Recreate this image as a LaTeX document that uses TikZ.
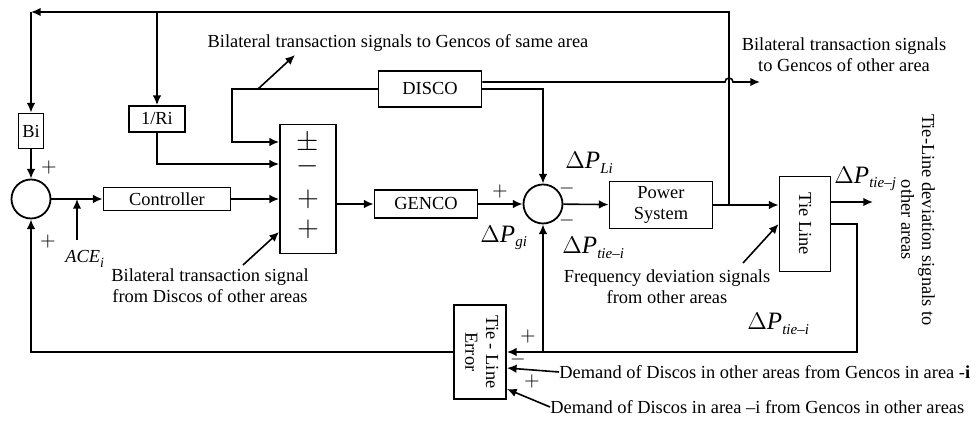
\documentclass[tikz,border=0pt]{standalone}
\usepackage{amsmath}
\usepackage{fontspec}
\setmainfont{Liberation Serif}
\usetikzlibrary{positioning, arrows.meta, calc}

% Delta P with a Times-like italic subscript
\newcommand{\dpow}[1]{{\fontsize{12.5}{14}\selectfont$\Delta$\textit{P}}\raisebox{-0.55ex}{\fontsize{7.5}{8}\selectfont\textit{#1}}}

\begin{document}
\begin{tikzpicture}[
  x=0.5pt, y=-0.5pt,
  font=\fontsize{9.2}{10.4}\selectfont,
  blk/.style={draw, line width=0.9pt, inner sep=1pt, align=center},
  junc/.style={draw, circle, line width=0.9pt, minimum size=19.5pt, inner sep=0pt},
  sig/.style={-{Latex[length=1.7mm, width=1.5mm]}, line width=0.8pt},
  note/.style={align=center, inner sep=0pt},
  dp/.style={inner sep=0pt},
  sgn/.style={inner sep=0pt, font=\fontsize{10}{12}\selectfont},
  muxsgn/.style={inner sep=0pt, text height=0.5em, text depth=0.05em,
                 font=\fontsize{14.5}{18}\selectfont},
]
\useasboundingbox (0,0) rectangle (971,421);

% Blocks
\node[blk, minimum width=12.5pt, minimum height=17.5pt] (bi) at (31,131) {Bi};
\node[blk, minimum width=28pt, minimum height=13pt] (ri) at (157,119) {1/Ri};
\node[junc] (sum1) at (31,199) {};
\node[blk, minimum width=63.5pt, minimum height=11.5pt] (ctrl) at (167,199) {Controller};
\node[blk, minimum width=28pt, minimum height=64.5pt] (mux) at (308,189) {};
\node[blk, minimum width=51.5pt, minimum height=18pt] (disco) at (430,89) {DISCO};
\node[blk, minimum width=51.5pt, minimum height=14pt] (genco) at (426,204) {GENCO};
\node[junc] (sum2) at (543,204) {};
\node[blk, minimum width=51.5pt, minimum height=23.5pt] (ps) at (661,205) {Power\\System};
\node[blk, minimum width=25.5pt, minimum height=47.5pt] (tie) at (805,224) {\rotatebox{-90}{Tie Line}};
\node[blk, minimum width=26pt, minimum height=47pt] (tle) at (480,352)
  {\rotatebox{-90}{\begin{tabular}{@{}c@{}}Tie - Line\\Error\end{tabular}}};

% Signs in the summing block
\node[muxsgn] (mx1) at (308,146) {$\pm$};
\node[muxsgn] (mx2) at (308,169) {$-$};
\node[muxsgn] (mx3) at (308,202) {$+$};
\node[muxsgn] (mx4) at (308,232) {$+$};

% Junction signs
\node[sgn] (s1a) at (49,168) {$+$};
\node[sgn] (s1b) at (48,242) {$+$};
\node[sgn] (s2a) at (500,192) {$+$};
\node[sgn] (s2b) at (567,189) {$-$};
\node[sgn] (s2c) at (567,221) {$-$};
\node[sgn] (t1) at (528,337) {$+$};
\node[sgn] (t2) at (518,360) {$-$};
\node[sgn] (t3) at (532,382) {$+$};

% Labels
\node[note] (samelbl) at (398,43) {Bilateral transaction signals to Gencos of same area};
\node[note] (othlbl) at (844,55) {Bilateral transaction signals\\to Gencos of other area};
\node[note] (fromlbl) at (210,286) {Bilateral transaction signal\\from Discos of other areas};
\node[note] (freqlbl) at (667,287) {Frequency deviation signals\\from other areas};
\node[note, rotate=-90] (devlbl) at (918,220) {Tie-Line deviation signals to\\other areas};
\node[note, anchor=west] (dem1) at (559,372) {Demand of Discos in other areas from Gencos in area -\textbf{i}};
\node[note, anchor=west] (dem2) at (550,407) {Demand of Discos in area \textendash i from Gencos in other areas};
\node[dp, anchor=west] (dpli) at (565,163) {\dpow{Li}};
\node[dp, anchor=west] (dpgi) at (480,238) {\dpow{gi}};
\node[dp, anchor=west] (dpti) at (562,248) {\dpow{tie\textendash i}};
\node[dp, anchor=west] (dptb) at (747,324) {\dpow{tie\textendash i}};
\node[dp, anchor=west] (dptj) at (834,179) {\dpow{tie\textendash j}};
\node[dp, anchor=west] (acelbl) at (65,259)
  {\textit{ACE}\raisebox{-0.55ex}{\fontsize{7}{8}\selectfont\textit{i}}};

% Points for free ends
\coordinate (tap) at (729,205);
\coordinate (tr) at (729,12);
\coordinate (tl) at (31,12);
\coordinate (dl) at (232,89);
\coordinate (db) at (258,89);
\coordinate (dt) at (295,55);
\coordinate (dout) at (760,82);
\coordinate (ace0) at (77,240);
\coordinate (oth0) at (243,265);
\coordinate (fq0) at (743,263);
\coordinate (tjout) at (873,202);
\coordinate (fbr) at (857,352);

% Top feedback
\draw[sig] (tap) -- (tr) -- (tl);
\draw[sig] (tl) -- (bi);
\draw[sig] (tl -| ri) -- (ri);
\draw[sig] (bi) -- (sum1);

% Into the summing block
\draw[sig] (ri) |- ($(mux.west)+(0,-25)$);
\draw[sig] (disco.west) -- (dl) |- ($(mux.west)+(0,-47)$);
\draw[sig] (db) -- (dt);
\draw[sig] (sum1) -- (ctrl);
\draw[sig] (ctrl) -- (ctrl -| mux.west);
\draw[sig] (ace0) -- (ace0 |- sum1.east);
\draw[sig] (oth0) -- ($(mux.west)+(0,43)$);

% Forward path
\draw[sig] (mux.east |- genco) -- (genco);
\draw[sig] (genco) -- (sum2);
\draw[sig] (disco.east) -| (sum2.north);
\draw[sig] ($(disco.east)+(0,-7)$) -- ($(tr |- dout)+(-4,0)$)
  arc[start angle=180, end angle=0, radius=2pt] -- (dout);
\draw[sig] (sum2) -- (ps);
\draw[sig] (ps) -- (ps -| tie.west);
\draw[sig] (fq0) -- (tie.west);
\draw[sig] (tie.east |- tjout) -- (tjout);

% Tie-line feedback
\draw[sig] (tie.east) -| (fbr) -- (tle.east);
\draw[sig] (sum2 |- fbr) -- (sum2);
\draw[sig] (tle.west) -- (sum1 |- tle.west) -- (sum1);
\draw[sig] (dem1.west) -- ($(tle.east)+(0,16)$);
\draw[sig] (dem2.west) -- ($(tle.east)+(0,37)$);

\end{tikzpicture}
\end{document}
